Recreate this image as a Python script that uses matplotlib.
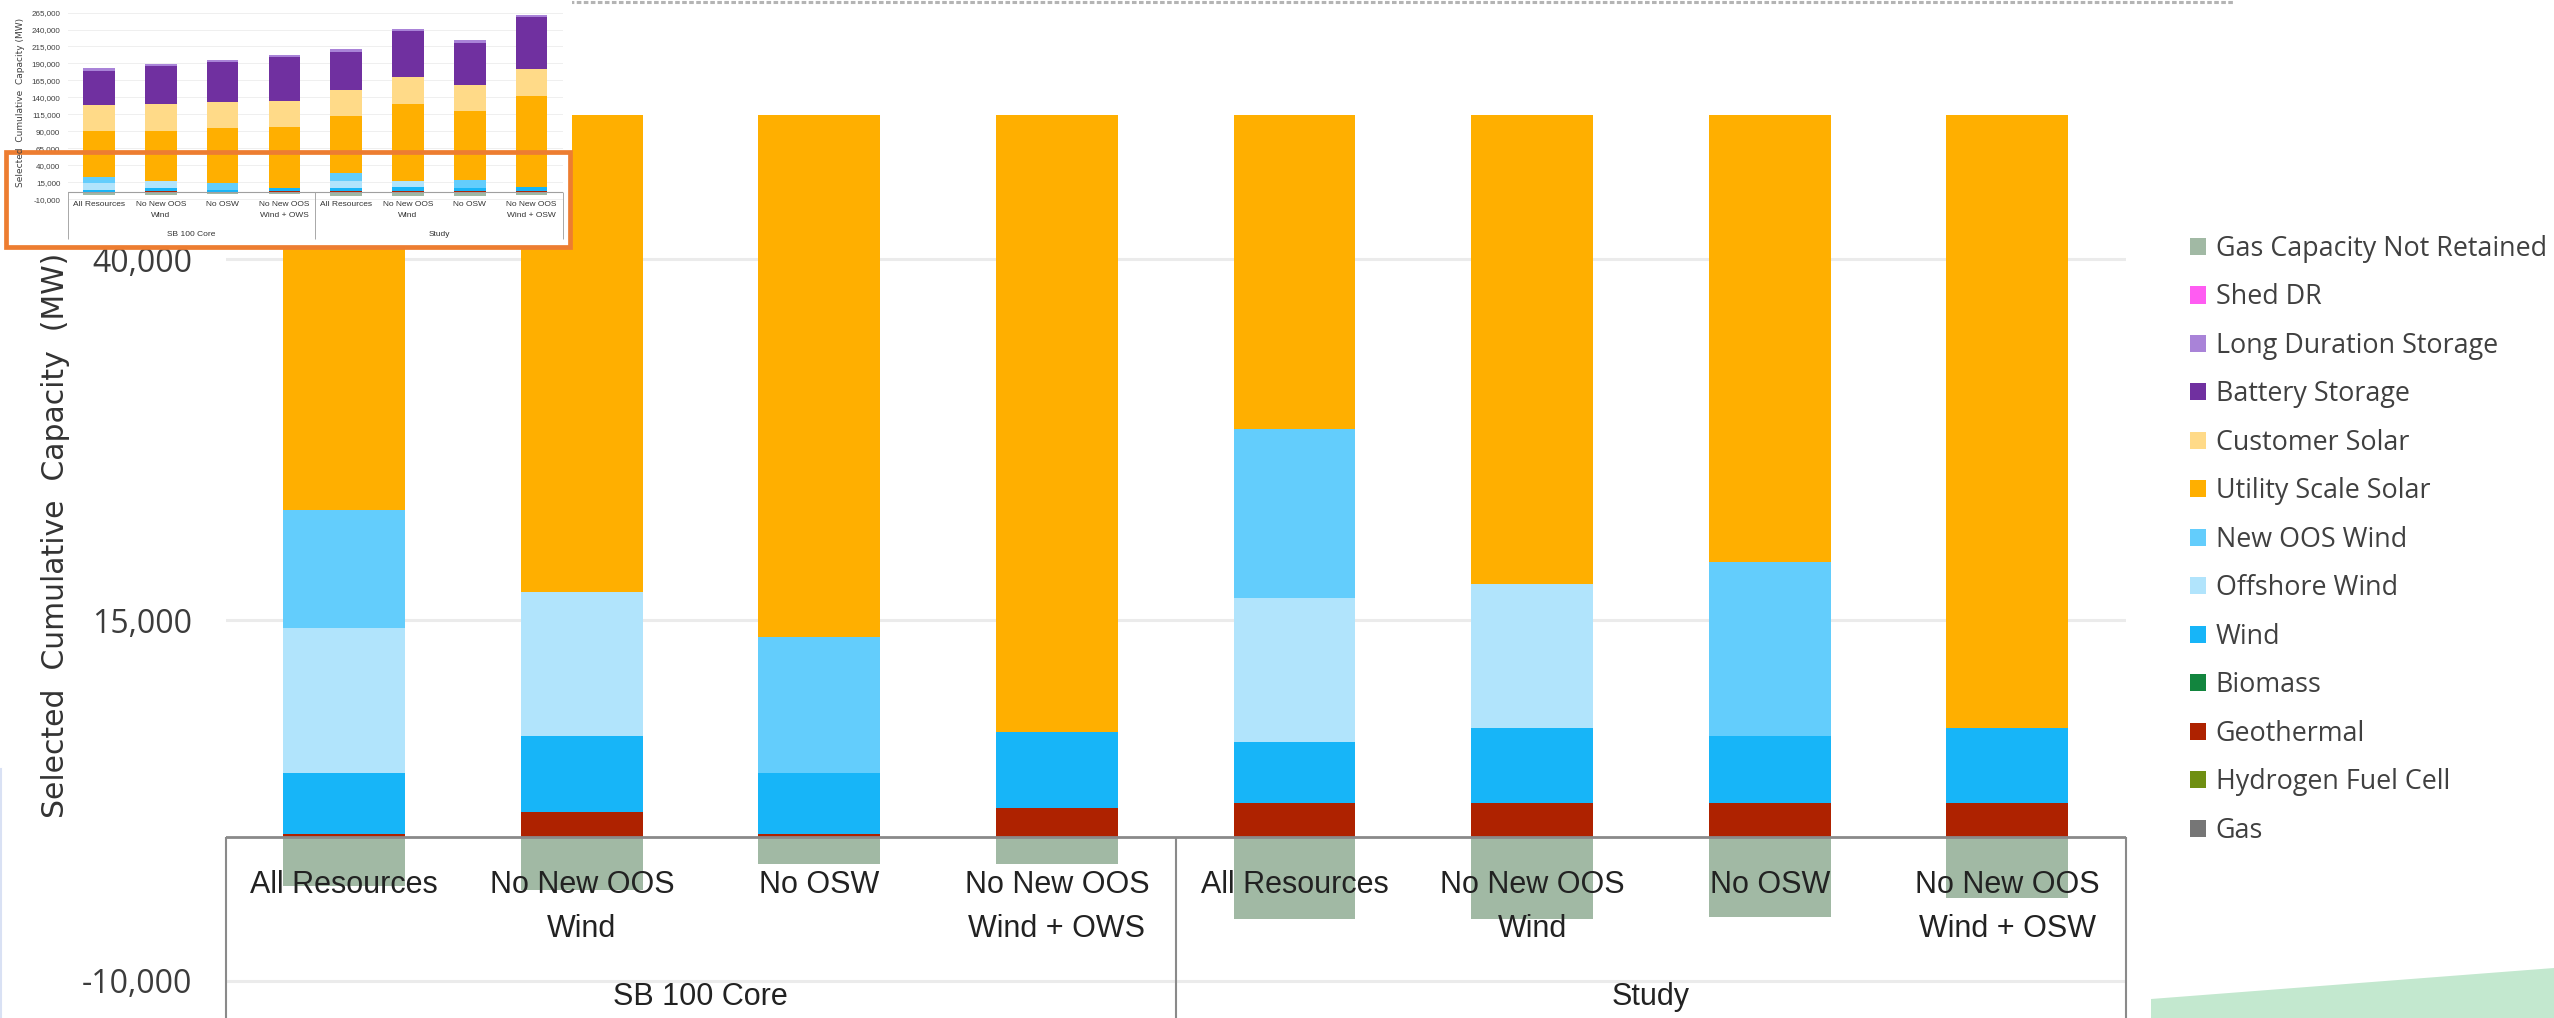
import matplotlib
matplotlib.use('Agg')
import numpy as np
from matplotlib import pyplot as plt
from matplotlib.patches import Patch, Rectangle, Polygon
from matplotlib.lines import Line2D

scenarios = ['All Resources', 'No New OOS\nWind', 'No OSW', 'No New OOS\nWind + OWS',
             'All Resources', 'No New OOS\nWind', 'No OSW', 'No New OOS\nWind + OSW']
groups = ['SB 100 Core', 'Study']

# selected cumulative capacity by resource (MW), one value per scenario
gas = [0, 0, 0, 0, 0, 0, 0, 0]
hydrogen_fuel_cell = [0, 0, 0, 0, 0, 0, 0, 0]
geothermal = [150, 1700, 150, 2000, 2300, 2300, 2300, 2300]
biomass = [0, 0, 0, 0, 0, 0, 0, 0]
wind = [4250, 5250, 4250, 5250, 4270, 5250, 4700, 5250]
offshore_wind = [10050, 10000, 0, 0, 9980, 9980, 0, 0]
new_oos_wind = [8200, 0, 9450, 0, 11700, 0, 12000, 0]
utility_solar = [67500, 74100, 81600, 89300, 84000, 112800, 100600, 135100]
customer_solar = [38800, 39300, 38400, 38300, 39200, 39400, 38700, 39300]
battery_storage = [50500, 56000, 58400, 64300, 56000, 68600, 62300, 77000]
long_duration_storage = [4000, 2900, 3400, 3400, 3900, 2900, 4000, 3000]
shed_dr = [0, 0, 0, 0, 0, 0, 0, 0]
gas_not_retained = [-3400, -3700, -1900, -1900, -5700, -5700, -5550, -4250]

# bottom-up stacking order
stack = [
    ('Gas', gas, '#767676'),
    ('Hydrogen Fuel Cell', hydrogen_fuel_cell, '#6f8f12'),
    ('Geothermal', geothermal, '#ae2200'),
    ('Biomass', biomass, '#12853e'),
    ('Wind', wind, '#17b5f8'),
    ('Offshore Wind', offshore_wind, '#b1e4fc'),
    ('New OOS Wind', new_oos_wind, '#63cdfc'),
    ('Utility Scale Solar', utility_solar, '#ffaf00'),
    ('Customer Solar', customer_solar, '#ffda88'),
    ('Battery Storage', battery_storage, '#7030a0'),
    ('Long Duration Storage', long_duration_storage, '#a983d8'),
    ('Shed DR', shed_dr, '#ff5cf2'),
]
neg_name, neg_color = 'Gas Capacity Not Retained', '#a1b9a4'

W, H = 2554, 1018


def px_box(left, top, right, bottom):
    # pixel box (origin top-left) -> figure fraction rect
    return [left / W, 1 - bottom / H, (right - left) / W, (bottom - top) / H]


def draw_bars(ax, width):
    x = np.arange(len(scenarios))
    bottom = np.zeros(len(scenarios))
    for name, vals, color in stack:
        ax.bar(x, vals, width, bottom=bottom, color=color, zorder=2, linewidth=0)
        bottom += np.array(vals)
    ax.bar(x, gas_not_retained, width, color=neg_color, zorder=2, linewidth=0)


fig = plt.figure(figsize=(W / 100, H / 100), dpi=100)
fig.patch.set_facecolor('white')

# ---- main (zoomed) chart ----
ax = fig.add_axes(px_box(225.5, 115, 2126, 1018))
ax.set_xlim(-0.5, 7.5)
ax.set_ylim(-12570, 50000)
for s in ax.spines.values():
    s.set_visible(False)
draw_bars(ax, 0.513)

ticks = [-10000, 15000, 40000]
for t in ticks:
    ax.axhline(t, color='#ebebeb', lw=2.2, zorder=0)
ax.set_yticks(ticks)
ax.set_yticklabels(['{:,}'.format(t) for t in ticks], family='Open Sans', fontsize=23, color='#3c3c3c')
ax.tick_params(axis='y', length=0, pad=24)
ax.tick_params(axis='x', bottom=False, labelbottom=False)

ax.axhline(0, color='#8a8a8a', lw=2, zorder=3)
ax.vlines([-0.5, 3.5, 7.5], -12570, 0, color='#8a8a8a', lw=1.5, zorder=3, clip_on=False)

row_y = [-3350, -6400]
for i, lab in enumerate(scenarios):
    for j, line in enumerate(lab.split('\n')):
        ax.text(i, row_y[j], line, ha='center', va='center', fontsize=22,
                family='Liberation Sans', color='#222222', zorder=4)
for g, name in enumerate(groups):
    ax.text(1.5 + 4 * g, -11100, name, ha='center', va='center', fontsize=22,
            family='Liberation Sans', color='#222222', zorder=4)

fig.text(56 / W, 1 - 535 / H, 'Selected  Cumulative  Capacity  (MW)', rotation=90,
         ha='center', va='center', fontsize=21.5, family='Liberation Sans Narrow', color='#333333')

# ---- small overview chart in the corner ----
fig.add_artist(Rectangle((0, 1 - 249 / H), 572 / W, 249 / H, transform=fig.transFigure,
                         facecolor='white', edgecolor='none', zorder=1))

ins = fig.add_axes(px_box(68, 8, 562.6, 239))
ins.set_zorder(2)
ins.patch.set_alpha(0)
ins.set_xlim(-0.5, 7.5)
ins.set_ylim(-68500, 271700)
for s in ins.spines.values():
    s.set_visible(False)
draw_bars(ins, 0.51)

small_ticks = list(range(-10000, 265001, 25000))
for t in small_ticks:
    ins.axhline(t, color='#efefef', lw=0.7, zorder=0)
ins.set_yticks(small_ticks)
ins.set_yticklabels(['{:,}'.format(t) for t in small_ticks], family='Liberation Sans', fontsize=5.8, color='#404040')
ins.tick_params(axis='y', length=0, pad=5.5)
ins.tick_params(axis='x', bottom=False, labelbottom=False)
ins.axhline(0, color='#a0a0a0', lw=0.8, zorder=3)
ins.vlines([-0.5, 3.5, 7.5], -68500, 0, color='#a8a8a8', lw=0.7, zorder=3, clip_on=False)

small_row_y = [-18000, -34600]
for i, lab in enumerate(scenarios):
    for j, line in enumerate(lab.split('\n')):
        ins.text(i, small_row_y[j], line, ha='center', va='center', fontsize=6,
                 family='Liberation Sans', color='#333333')
for g, name in enumerate(groups):
    ins.text(1.5 + 4 * g, -61800, name, ha='center', va='center', fontsize=6,
             family='Liberation Sans', color='#333333')

fig.text(21 / W, 1 - 102 / H, 'Selected  Cumulative  Capacity (MW)', rotation=90,
         ha='center', va='center', fontsize=6.5, family='Liberation Sans Narrow', color='#404040',
         zorder=3)

# zoom frame around the low range of the overview
fig.add_artist(Rectangle((5.7 / W, 1 - 246.7 / H), (570 - 5.7) / W, 95 / H, transform=fig.transFigure,
                         fill=False, edgecolor='#ed7d31', lw=3.4, zorder=3))

# ---- legend ----
handles = [Patch(facecolor=neg_color, edgecolor='none')]
labels = [neg_name]
for name, vals, color in reversed(stack):
    handles.append(Patch(facecolor=color, edgecolor='none'))
    labels.append(name)
fig.legend(handles, labels, loc='upper left', bbox_to_anchor=(2190 / W, 1 - 235 / H),
           frameon=False, prop={'family': 'Open Sans', 'size': 19.4}, labelcolor='#404040',
           handlelength=0.6, handleheight=0.6, handletextpad=0.35, labelspacing=0.76,
           borderpad=0, borderaxespad=0)

# ---- slide decorations ----
fig.add_artist(Line2D([0, 2234 / W], [1 - 1.5 / H] * 2, transform=fig.transFigure,
                      color='#b4b4b4', lw=2.2, linestyle=(0, (1.5, 0.8)), zorder=0.5))
fig.add_artist(Line2D([1 / W] * 2, [0, 1 - 769 / H], transform=fig.transFigure,
                      color='#d9e1f4', lw=1.5, zorder=0.5))
pts = np.array([[2151, 1018], [2151, 999], [2554, 968], [2554, 1018]], dtype=float)
pts[:, 0] /= W
pts[:, 1] = 1 - pts[:, 1] / H
fig.add_artist(Polygon(pts, closed=True, transform=fig.transFigure,
                       facecolor='#c3e8cf', edgecolor='none', zorder=0.5))

fig.savefig('out.png', dpi=100)
